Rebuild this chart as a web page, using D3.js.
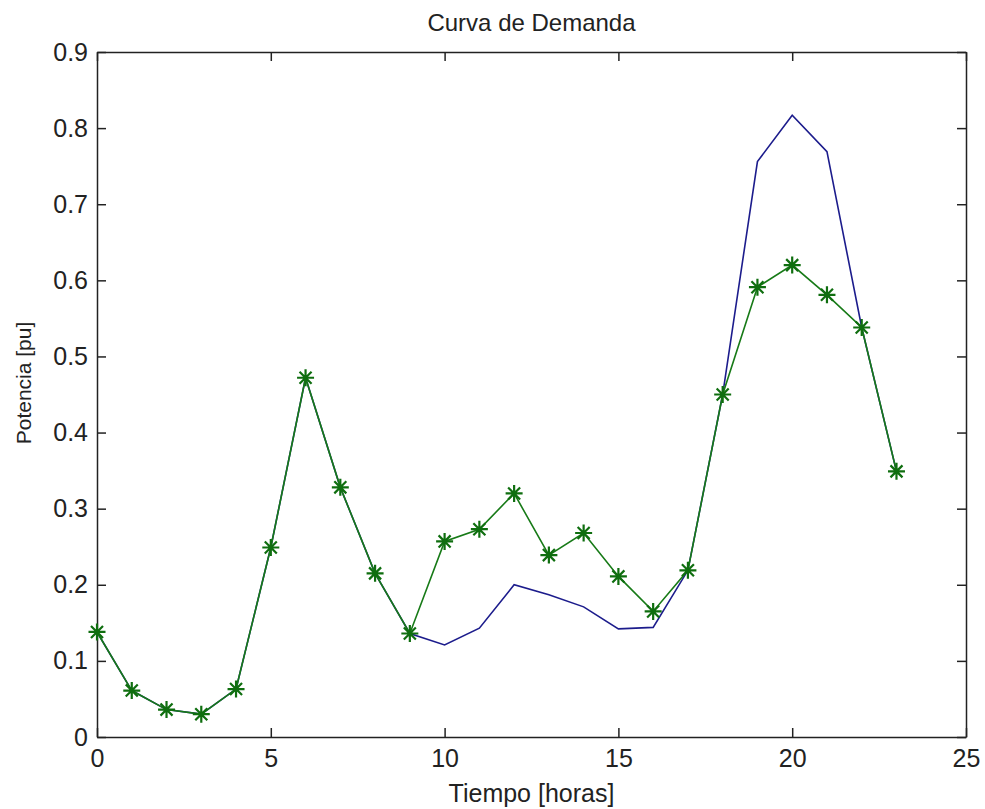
<!DOCTYPE html>
<html>
<head>
<meta charset="utf-8">
<script src="https://cdn.jsdelivr.net/npm/d3@7"></script>
<style>
  body { margin: 0; background: #fff; }
  text { font-family: "Liberation Sans", Arial, sans-serif; fill: #222; }
</style>
</head>
<body>
<svg id="chart" width="985" height="809"></svg>
<script>
const hours = d3.range(0, 24);
const demandReal = [0.138, 0.061, 0.036, 0.030, 0.063, 0.249, 0.472, 0.328, 0.215, 0.136,
  0.121, 0.143, 0.200, 0.187, 0.171, 0.142, 0.144, 0.219, 0.450, 0.756, 0.817, 0.769, 0.538, 0.349];
const demandShifted = [0.138, 0.061, 0.036, 0.030, 0.063, 0.249, 0.472, 0.328, 0.215, 0.136,
  0.257, 0.273, 0.320, 0.239, 0.268, 0.211, 0.165, 0.219, 0.450, 0.591, 0.620, 0.581, 0.538, 0.349];
const xTicks = [0, 5, 10, 15, 20, 25];
const yTicks = [0, 0.1, 0.2, 0.3, 0.4, 0.5, 0.6, 0.7, 0.8, 0.9];

const svg = d3.select("#chart"),
  margin = { top: 52, right: 19, bottom: 72, left: 97 },
  width = +svg.attr("width") - margin.left - margin.right,
  height = +svg.attr("height") - margin.top - margin.bottom;

const g = svg.append("g")
  .attr("transform", `translate(${margin.left},${margin.top})`);

const x = d3.scaleLinear().domain([0, 25]).range([0, width]);
const y = d3.scaleLinear().domain([0, 0.9]).range([height, 0]);

const tickLen = 9;
const fmtY = (d) => (d === 0 ? "0" : d3.format(".1f")(d));

// bottom + top axes (ticks inward)
const xb = g.append("g").attr("transform", `translate(0,${height})`)
  .call(d3.axisBottom(x).tickValues(xTicks).tickSizeInner(-tickLen).tickSizeOuter(0).tickPadding(12));
const xt = g.append("g")
  .call(d3.axisTop(x).tickValues(xTicks).tickSizeInner(-tickLen).tickSizeOuter(0).tickFormat(""));
const yl = g.append("g")
  .call(d3.axisLeft(y).tickValues(yTicks).tickSizeInner(-tickLen).tickSizeOuter(0).tickPadding(9).tickFormat(fmtY));
const yr = g.append("g").attr("transform", `translate(${width},0)`)
  .call(d3.axisRight(y).tickValues(yTicks).tickSizeInner(-tickLen).tickSizeOuter(0).tickFormat(""));

[xb, xt, yl, yr].forEach((a) => {
  a.select(".domain").attr("stroke", "#222").attr("stroke-width", 1.5);
  a.selectAll(".tick line").attr("stroke", "#222").attr("stroke-width", 1.5);
  a.selectAll(".tick text").attr("font-size", "25px").attr("fill", "#333")
    .style("font-family", "'Liberation Sans', Arial, sans-serif");
});
xb.selectAll(".tick text").attr("dy", "0.71em");

const line = d3.line().x((d, i) => x(hours[i])).y((d) => y(d));

g.append("path").datum(demandReal)
  .attr("fill", "none").attr("stroke", "#1c1c8c").attr("stroke-width", 1.6)
  .attr("d", line);

g.append("path").datum(demandShifted)
  .attr("fill", "none").attr("stroke", "#177a17").attr("stroke-width", 1.6)
  .attr("d", line);

// asterisk markers
const star = (r) => {
  const p = d3.path();
  const k = r * Math.SQRT1_2;
  p.moveTo(-r, 0); p.lineTo(r, 0);
  p.moveTo(0, -r); p.lineTo(0, r);
  p.moveTo(-k, -k); p.lineTo(k, k);
  p.moveTo(-k, k); p.lineTo(k, -k);
  return p.toString();
};

g.selectAll(".mark").data(demandShifted).enter().append("path")
  .attr("class", "mark")
  .attr("transform", (d, i) => `translate(${x(hours[i])},${y(d)})`)
  .attr("d", star(8.5))
  .attr("fill", "none").attr("stroke", "#0f6e0f").attr("stroke-width", 2.2);

svg.append("text")
  .attr("x", margin.left + width / 2).attr("y", 31)
  .attr("text-anchor", "middle").attr("font-size", "24px")
  .text("Curva de Demanda");

svg.append("text")
  .attr("x", margin.left + width / 2).attr("y", 802)
  .attr("text-anchor", "middle").attr("font-size", "25px")
  .text("Tiempo [horas]");

svg.append("text")
  .attr("transform", `translate(31,383) rotate(-90)`)
  .attr("text-anchor", "middle").attr("font-size", "21px")
  .text("Potencia [pu]");
</script>
</body>
</html>
